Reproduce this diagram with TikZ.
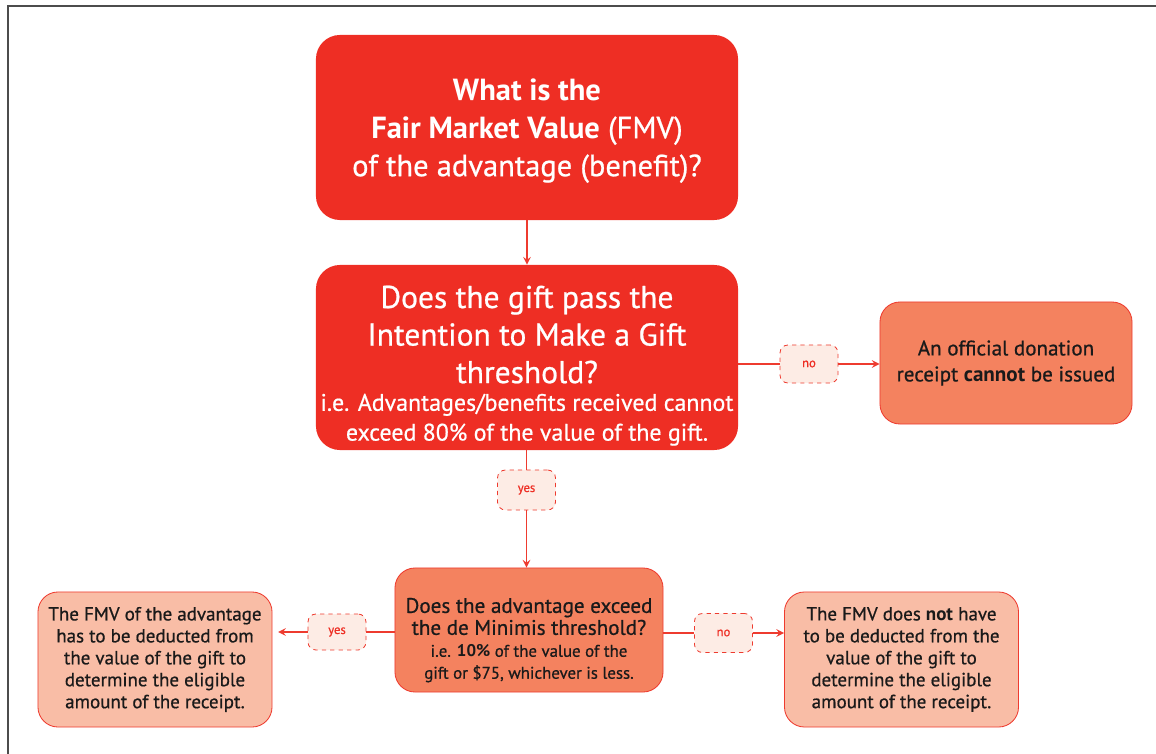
\documentclass[tikz,border=0pt]{standalone}
\usepackage{fontspec}
\setmainfont{PT Sans}[UprightFeatures={FakeBold=0.7}]
\usepackage{tikz}
\usetikzlibrary{arrows,positioning}
\definecolor{deepred}{HTML}{EE2E24}
\definecolor{salmon}{HTML}{F4825F}
\definecolor{peach}{HTML}{F9BDA6}
\definecolor{blush}{HTML}{FDECE5}
\definecolor{edgered}{HTML}{EE3B2F}
\definecolor{inkblack}{HTML}{1A1A1A}
\tikzstyle{arrow} = [line width=1.4pt,->,>=stealth,draw=edgered]
\tikzstyle{link} = [line width=1.4pt,draw=edgered]
\newcommand{\smalltext}{\fontsize{17}{20}\selectfont}
\newcommand{\notetext}{\fontsize{12}{15.6}\selectfont}

\begin{document}
\begin{tikzpicture}[x=0.025cm,y=-0.025cm]
                \tikzstyle{question}=[fill=deepred,draw=none,rounded corners=0.6cm,text=white,align=center,inner sep=0pt,minimum width=10.55cm,minimum height=4.625cm]
                \tikzstyle{check}=[fill=salmon,draw=edgered,line width=0.6pt,rounded corners=0.5cm,text=inkblack,align=center,inner sep=0pt]
                \tikzstyle{outcome}=[fill=peach,draw=edgered,line width=0.6pt,rounded corners=0.5cm,text=inkblack,align=center,inner sep=0pt,minimum width=5.85cm,minimum height=3.375cm,font=\fontsize{13.5}{15.6}\selectfont]
                \tikzstyle{answer}=[fill=blush,draw=edgered,dashed,line width=0.6pt,rounded corners=0.2cm,text=deepred,inner sep=0pt,minimum width=1.45cm,minimum height=0.95cm,font=\fontsize{9}{10}\selectfont]

                \useasboundingbox (0,0) rectangle (1156,754);
                \draw [line width=1.4pt,draw=black!70] (8,760) -- (8,6) -- (1160,6);

                \node [question,font=\fontsize{21.7}{27}\selectfont] (fmv) at (527,127.5)
                {\rule{0pt}{20pt}\textbf{What is the}\\
                \textbf{Fair Market Value} (FMV)\\
                of the advantage (benefit)?};
                \node [question,font=\fontsize{22.4}{26.7}\selectfont] (intent) at (527,357.5)
                {\rule{0pt}{27.5pt}Does the gift pass the\\
                Intention to Make a Gift\\
                threshold?\\[-7pt]
                \smalltext i.e. Advantages/benefits received cannot\\[-5.5pt]
                \smalltext exceed 80\% of the value of the gift.};
                \node [check,minimum width=6.3cm,minimum height=3.05cm,font=\fontsize{15}{18.5}\selectfont] (noreceipt) at (1006,363)
                {An official donation\\
                receipt \textbf{cannot} be issued};
                \node [check,minimum width=6.7cm,minimum height=3.1cm,font=\fontsize{15}{15.6}\selectfont] (minimis) at (529,630)
                {\rule{0pt}{25pt}Does the advantage exceed\\
                the de Minimis threshold?\\
                \notetext i.e. \textbf{10\%} of the value of the\\
                \notetext gift or \$75, whichever is less.};
                \node [outcome] (deduct) at (155,659.5)
                {The FMV of the advantage\\
                has to be deducted from\\
                the value of the gift to\\
                determine the eligible\\
                amount of the receipt.};
                \node [outcome] (nodeduct) at (901.5,659.5)
                {The FMV does \textbf{not} have\\
                to be deducted from the\\
                value of the gift to\\
                determine the eligible\\
                amount of the receipt.};

                \node [answer] (notop) at (809,364) {no};
                \node [answer,minimum height=1cm] (yestop) at (526.5,490) {yes};
                \node [answer,minimum height=0.9cm] (yesleft) at (337,632) {yes};
                \node [answer,minimum height=0.975cm] (noright) at (723.5,633) {no};

                \draw [arrow] (fmv.south) -- (intent.north);
                \draw [link] (intent.east |- notop.west) -- (notop.west);
                \draw [arrow] (notop.east) -- (noreceipt.west |- notop.east);
                \draw [link] (intent.south -| yestop.north) -- (yestop.north);
                \draw [arrow] (yestop.south) -- (minimis.north -| yestop.south);
                \draw [link] (minimis.west |- yesleft.east) -- (yesleft.east);
                \draw [arrow,shorten >=4pt] (yesleft.west) -- (deduct.east |- yesleft.west);
                \draw [link] (minimis.east |- noright.west) -- (noright.west);
                \draw [arrow] (noright.east) -- (nodeduct.west |- noright.east);
            \end{tikzpicture}
\end{document}
